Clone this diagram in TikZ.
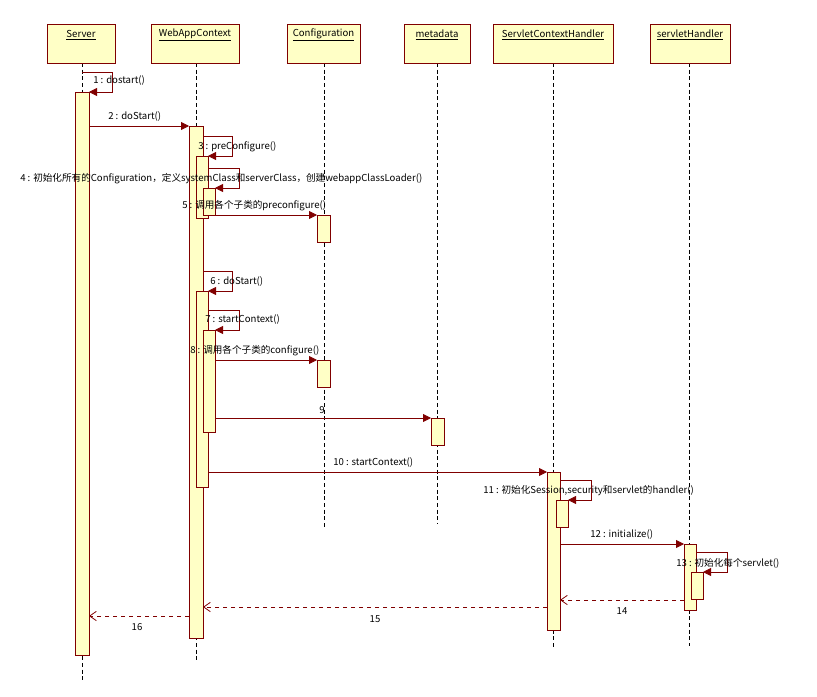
\documentclass[tikz,border=0pt]{standalone}
\usepackage{fontspec}
\setmainfont{Noto Sans CJK SC}
\usetikzlibrary{arrows.meta}
\definecolor{bd}{HTML}{800000}
\definecolor{fl}{HTML}{FFFFC6}
\begin{document}
\begin{tikzpicture}[x=0.75pt,y=-0.75pt,
  hdr/.style={draw=bd,fill=fl,line width=0.6pt},
  act/.style={draw=bd,fill=fl,line width=0.6pt},
  life/.style={densely dashed,line width=0.5pt},
  msg/.style={draw=bd,line width=0.6pt,-{Triangle[length=6pt,width=6pt]}},
  ret/.style={draw=bd,line width=0.6pt,dashed,-{Straight Barb[length=5pt,width=7pt]}},
  lab/.style={font=\fontsize{7.2}{8}\selectfont,inner sep=0pt,anchor=west},
  ttl/.style={font=\fontsize{7.2}{8}\selectfont,inner sep=0pt}]
\useasboundingbox (0,0) rectangle (817,696);
% lifelines
\draw[life] (82,63)--(82,680);
\draw[life] (196,63)--(196,660);
\draw[life] (324,63)--(324,528);
\draw[life] (437,63)--(437,524);
\draw[life] (553,63)--(553,648);
\draw[life] (689,63)--(689,646);
% headers
\foreach \n/\a/\b/\t in {hS/47/115/Server,hW/151/239/WebAppContext,hC/287/360/Configuration,hM/404/470/metadata,hH/493/613/ServletContextHandler,hL/650/730/servletHandler}{
  \draw[hdr] (\a,24) rectangle (\b,63);
  \node[ttl] (\n) at ({(\a+\b)/2},35) {\underline{\t}};
}
% activations
\draw[act] (75,92) rectangle (89,655);
\draw[act] (189,126) rectangle (203,638);
\draw[act] (196,156) rectangle (208,218);
\draw[act] (203,188) rectangle (215,215);
\draw[act] (196,291) rectangle (208,487);
\draw[act] (203,330) rectangle (215,432);
\draw[act] (317,215) rectangle (330,242);
\draw[act] (317,360) rectangle (330,387);
\draw[act] (431,418) rectangle (444,445);
\draw[act] (547,472) rectangle (560,630);
\draw[act] (556,500) rectangle (568,527);
\draw[act] (684,544) rectangle (696,610);
\draw[act] (691,572) rectangle (703,599);
% coordinates
\foreach \n/\x/\y in {a1/82/72,b1/89/92,a2/89/126,b2/189/126,a3/203/136,b3/208/156,a4/208/168,b4/215/188,a5/215/215,b5/317/215,
 a6/203/271,b6/208/291,a7/208/310,b7/215/330,a8/215/360,b8/317/360,a9/215/418,b9/431/418,a10/208/472,b10/547/472,
 a11/560/480,b11/568/500,a12/560/544,b12/684/544,a13/696/552,b13/703/572,a14/684/600,b14/560/600,a15/547/607,b15/203/607,a16/189/616,b16/89/616}
 {\coordinate (\n) at (\x,\y);}
% messages
\draw[msg] (a1)-|(112,92)--(b1);
\draw[msg] (a2)--(b2);
\draw[msg] (a3)-|(232,156)--(b3);
\draw[msg] (a4)-|(239,188)--(b4);
\draw[msg] (a5)--(b5);
\draw[msg] (a6)-|(232,291)--(b6);
\draw[msg] (a7)-|(239,330)--(b7);
\draw[msg] (a8)--(b8);
\draw[msg] (a9)--(b9);
\draw[msg] (a10)--(b10);
\draw[msg] (a11)-|(591,500)--(b11);
\draw[msg] (a12)--(b12);
\draw[msg] (a13)-|(727,572)--(b13);
\draw[ret] (a14)--(b14);
\draw[ret] (a15)--(b15);
\draw[ret] (a16)--(b16);
% labels
\node[lab] (l1) at (93,81) {1 : dostart()};
\node[lab] (l2) at (108,117) {2 : doStart()};
\node[lab] (l3) at (198,147) {3 : preConfigure()};
\node[lab] (l4) at (20,179) {4 : 初始化所有的Configuration，定义systemClass和serverClass，创建webappClassLoader()};
\node[lab] (l5) at (182,206) {5 : 调用各个子类的preconfigure()};
\node[lab] (l6) at (210,282) {6 : doStart()};
\node[lab] (l7) at (205,320) {7 : startContext()};
\node[lab] (l8) at (190,351) {8 : 调用各个子类的configure()};
\node[ttl] (l9) at (322,410) {9};
\node[lab] (l10) at (333,463) {10 : startContext()};
\node[lab] (l11) at (483,491) {11 : 初始化Session,security和servlet的handler()};
\node[lab] (l12) at (590,535) {12 : initialize()};
\node[lab] (l13) at (676,563) {13 : 初始化每个servlet()};
\node[ttl] (l14) at (622,611) {14};
\node[ttl] (l15) at (375,619) {15};
\node[ttl] (l16) at (137,627) {16};
\end{tikzpicture}
\end{document}
